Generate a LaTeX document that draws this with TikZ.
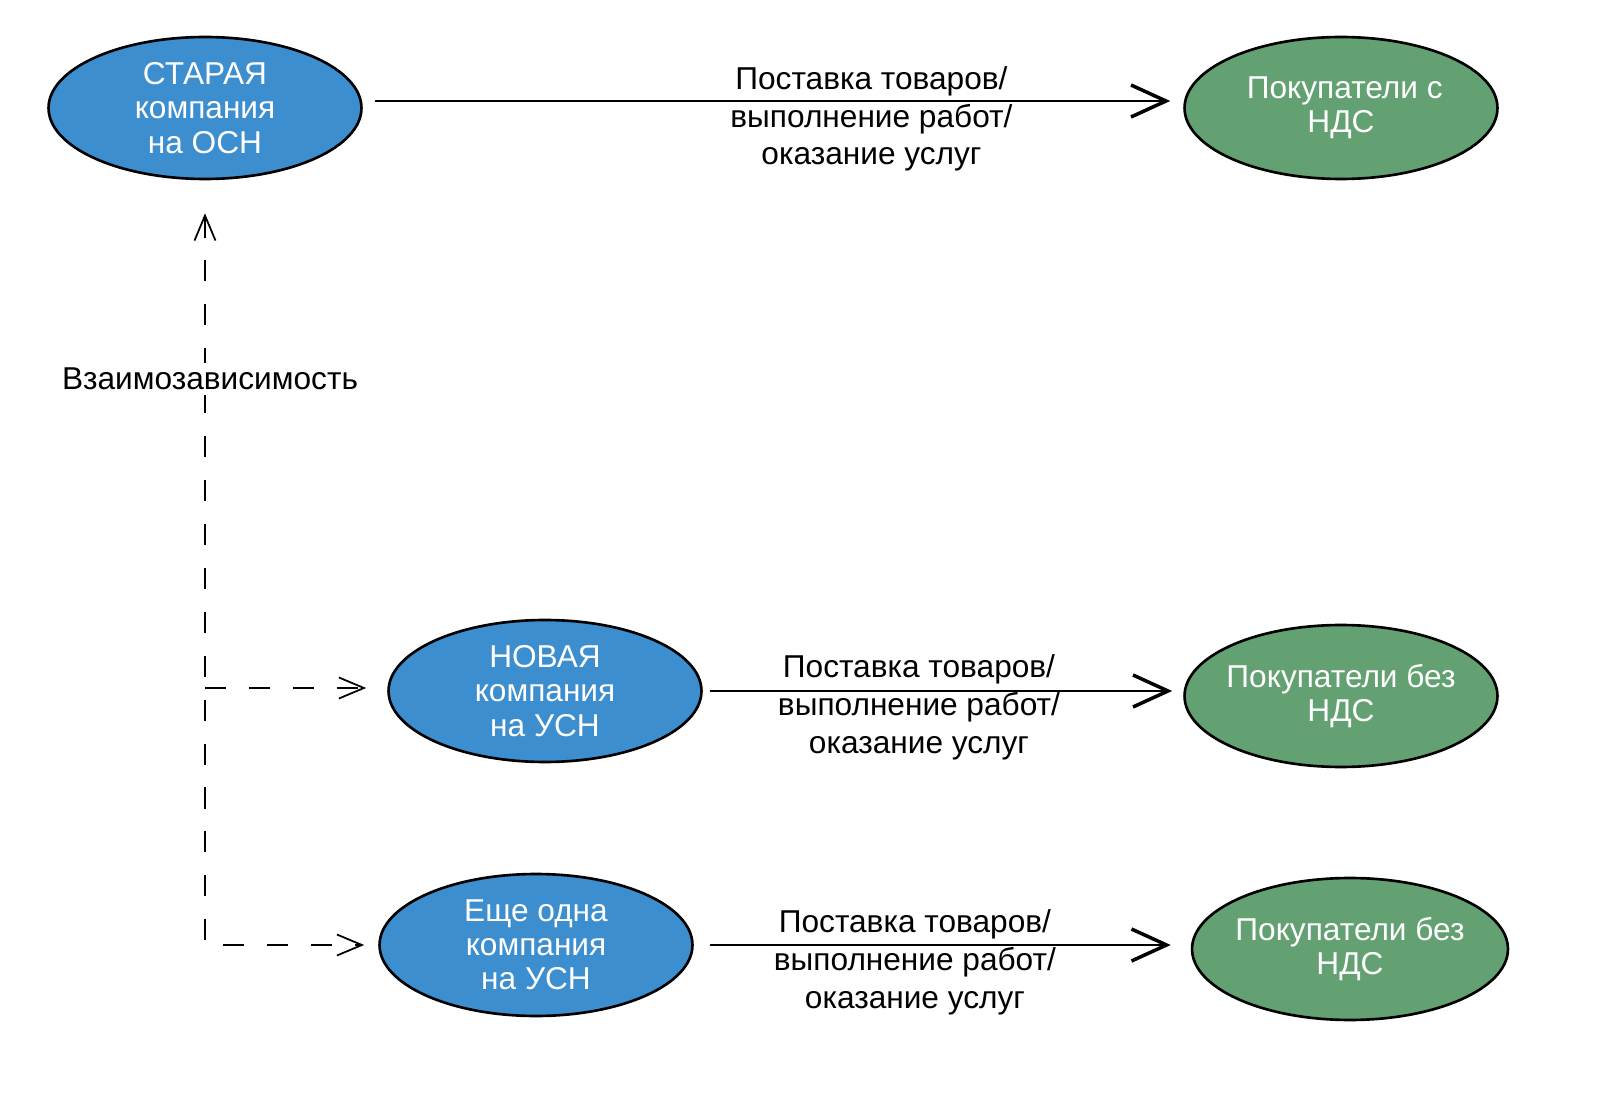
\documentclass[tikz,border=0pt]{standalone}
\usepackage{fontspec}
\setmainfont{Liberation Sans}
\usetikzlibrary{arrows.meta,shapes.geometric}
\definecolor{compc}{RGB}{61,142,206}
\definecolor{buyc}{RGB}{99,161,114}
\tikzset{
  firm/.style  = {ellipse, draw=black, line width=1.5pt, minimum width=6.26cm,
                  minimum height=2.84cm, inner sep=0pt, align=center, text=white,
                  font=\fontsize{18}{19.5}\selectfont},
  comp/.style  = {firm, fill=compc},
  buyer/.style = {firm, fill=buyc, inner xsep=-0.25cm},
  flow/.style  = {-{Straight Barb[length=7mm, width=6.4mm, line width=2pt]},
                  line width=1.4pt, line cap=round},
  dep/.style   = {line width=1pt, dash pattern=on 12pt off 13pt},
  dtip/.tip    = {Straight Barb[length=5mm, width=4.2mm, line width=1pt]},
  elab/.style  = {font=\fontsize{18}{21.5}\selectfont, align=center, inner sep=1pt},
}

\begin{document}
\begin{tikzpicture}[x=0.02cm, y=-0.02cm]
\useasboundingbox (0,0) rectangle (1600,1101);

% ---- companies ----
\node[comp] (old)  at (205,108) {СТАРАЯ\\компания\\на ОСН};
\node[comp] (newA) at (545,691) {НОВАЯ\\компания\\на УСН};
\node[comp] (newB) at (536,945) {Еще одна\\компания\\на УСН};

% ---- buyers ----
\node[buyer] (buyA) at (1341,108) {\hspace*{0.15cm}Покупатели с\\НДС};
\node[buyer] (buyB) at (1341,696) {Покупатели без\\НДС};
\node[buyer, minimum width=6.32cm] (buyC) at (1350,949) {Покупатели без\\НДС};

% ---- sales ----
\draw[flow, shorten <=0.26cm, shorten >=0.26cm] ([yshift=0.14cm]old.east) --
      node[elab, pos=0.62, yshift=-0.36cm]{Поставка товаров/\\выполнение работ/\\оказание услуг}
      ([yshift=0.14cm]old.east -| buyA.west);
\draw[flow, shorten <=0.16cm, shorten >=0.22cm] (newA.east) --
      node[elab, pos=0.45, yshift=-0.33cm]{Поставка товаров/\\выполнение работ/\\оказание услуг}
      (newA.east -| buyB.west);
\draw[flow, shorten <=0.34cm, shorten >=0.4cm] (newB.east) --
      node[elab, pos=0.445, yshift=-0.35cm]{Поставка товаров/\\выполнение работ/\\оказание услуг}
      (newB.east -| buyC.west);

% ---- interdependence ----
\coordinate (corner) at (old.south |- newB.west);
\draw[dep, dtip-dtip, shorten <=0.66cm, shorten >=0.28cm] (old.south) --
      node[elab, pos=0.26, xshift=0.1cm, fill=white, inner sep=3pt]{Взаимозависимость} (corner) -- (newB.west);
\draw[dep, -dtip, shorten >=0.42cm] ([yshift=0.06cm]old.south |- newA.west) -- ([yshift=0.06cm]newA.west);

\end{tikzpicture}
\end{document}
